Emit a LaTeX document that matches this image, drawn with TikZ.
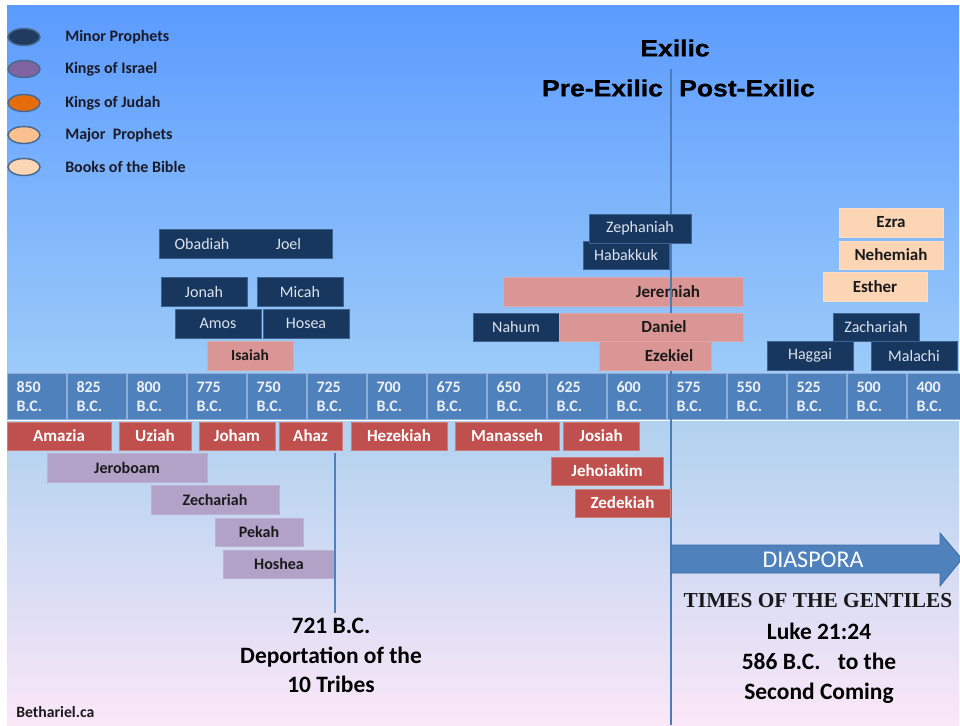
\documentclass[tikz,border=0pt]{standalone}
\usepackage{fontspec}
\setmainfont{Carlito}
\newfontfamily\headfont{Liberation Sans}[FakeStretch=1.13, FakeBold=0.8]
\newfontfamily\timesfont{Liberation Serif}
\usetikzlibrary{shapes.geometric}
\definecolor{skytop}{HTML}{5B9BFE}
\definecolor{skybot}{HTML}{9CCBF9}
\definecolor{lowtop}{HTML}{B0D1EF}
\definecolor{lowmid}{HTML}{D4DAF2}
\definecolor{lowbot}{HTML}{FBE7F8}
\definecolor{bandbg}{HTML}{A9C8EE}
\definecolor{band}{HTML}{4F81BD}
\definecolor{bandedge}{HTML}{8DAFDC}
\definecolor{celltext}{HTML}{EEF2F8}
\definecolor{navy}{HTML}{17375E}
\definecolor{navyedge}{HTML}{3D628F}
\definecolor{minortext}{HTML}{DCE3EE}
\definecolor{pinkmaj}{HTML}{D99694}
\definecolor{judah}{HTML}{C0504D}
\definecolor{israel}{HTML}{B3A2C7}
\definecolor{book}{HTML}{FCD5B5}
\definecolor{darktext}{HTML}{1A1A1A}
\definecolor{legendtext}{HTML}{1B1B28}
\definecolor{legedge}{HTML}{48698F}
\definecolor{legminor}{HTML}{1F3B60}
\definecolor{legisrael}{HTML}{8064A2}
\definecolor{legjudah}{HTML}{E46C0A}
\definecolor{legmajor}{HTML}{FAC090}
\definecolor{legbook}{HTML}{FCD5B5}
\definecolor{exline}{HTML}{4A7EBB}
\definecolor{arrowedge}{HTML}{3A6BA5}
\tikzset{
  box/.style={rectangle, inner sep=0pt, outer sep=0pt, line width=0.5pt},
  minorbox/.style={box, fill=navy, draw=navyedge, text=minortext, font=\fontsize{12}{14}\selectfont},
  majorbox/.style={box, fill=pinkmaj, draw=pinkmaj!85!white, text=darktext, font=\bfseries\fontsize{12.75}{15}\selectfont},
  judahbox/.style={box, fill=judah, draw=judah!75!white, text=white, font=\bfseries\fontsize{12.75}{15}\selectfont},
  israelbox/.style={box, fill=israel, draw=israel!85!white, text=darktext, font=\bfseries\fontsize{12}{14}\selectfont},
  bookbox/.style={box, fill=book, draw=book!80!white, text=darktext, font=\bfseries\fontsize{12.75}{15}\selectfont},
  cell/.style={rectangle, anchor=north west, fill=band, draw=bandedge, line width=0.75pt,
    minimum width=44.25pt, minimum height=34.5pt, text width=30.75pt, inner xsep=6.75pt, inner ysep=0pt,
    align=left, text=celltext, font=\bfseries\fontsize{12}{14.25}\selectfont},
  legdot/.style={ellipse, minimum width=24pt, minimum height=12.75pt, inner sep=0pt, draw=legedge, line width=1.1pt},
  legtext/.style={anchor=west, inner sep=0pt, text=legendtext, font=\bfseries\fontsize{12}{14}\selectfont},
  headtext/.style={inner sep=0pt, text=black, font=\headfont\bfseries\fontsize{17.6}{20}\selectfont},
  bigtext/.style={inner sep=0pt, align=center, text=black, font=\bfseries\fontsize{17.6}{22.1}\selectfont},
  vline/.style={draw=exline, line width=1.4pt},
}
\newcommand\tlbox[7]{\node[#2, minimum width={(#5-#3)*0.75pt}, minimum height={(#6-#4)*0.75pt}] (#1) at ({(#3+#5)/2},{(#4+#6)/2}) {#7};}
\begin{document}
\begin{tikzpicture}[x=0.75pt,y=-0.75pt]
\useasboundingbox (0,0) rectangle (960,725);
% background
\fill[white] (0,0) rectangle (960,725);
\shade[top color=skytop, bottom color=skybot] (7,5) rectangle (959,372);
\fill[bandbg] (7,372) rectangle (959,421);
\shade[top color=lowtop, middle color=lowmid, bottom color=lowbot] (7,421) rectangle (959,725);
% timeline band
\foreach \lab [count=\i from 0] in {850,825,800,775,750,725,700,675,650,625,600,575,550,525,500,400}
  {\node[cell] (c\lab) at ({7+60*\i},373) {\lab\\B.C.};}
\coordinate (wl) at (7,420.5);
\coordinate (wr) at (959,420.5);
\draw[white, line width=1.3pt] (wl) -- (wr);
% legend
\node[legdot, fill=legminor] (lg1) at (24,37) {};
\node[legdot, fill=legisrael] (lg2) at (24,69) {};
\node[legdot, fill=legjudah] (lg3) at (24,103) {};
\node[legdot, fill=legmajor] (lg4) at (24,135) {};
\node[legdot, fill=legbook] (lg5) at (24,167) {};
\node[legtext] (lt1) at (65,37) {Minor Prophets};
\node[legtext] (lt2) at (65,69) {Kings of Israel};
\node[legtext] (lt3) at (65,103) {Kings of Judah};
\node[legtext] (lt4) at (65,135) {Major\ \ Prophets};
\node[legtext] (lt5) at (65,167) {Books of the Bible};
% headings
\node[headtext] (exilic) at (675,48) {Exilic};
\node[headtext] (pre) at (602.5,88) {Pre-Exilic};
\node[headtext] (post) at (747,88) {Post-Exilic};
% boxes crossed by the exilic line (beneath it)
\tlbox{jeremiah}{majorbox}{503}{277}{743}{306}{\hspace*{67.5pt}Jeremiah}
\tlbox{habakkuk}{minorbox}{583}{241}{669}{269}{Habakkuk}
% exilic line
\coordinate (extop) at (671,69);
\coordinate (exbot) at (671,725);
\draw[vline] (extop) -- (exbot);
% minor prophets
\tlbox{obadiah}{minorbox, draw=none}{159}{229}{245}{258}{Obadiah}
\tlbox{joel}{minorbox, draw=none}{245}{229}{332}{258}{Joel}
\draw[navyedge, line width=0.5pt] (obadiah.north west) rectangle (joel.south east);
\tlbox{jonah}{minorbox}{161}{277}{247}{306}{Jonah}
\tlbox{micah}{minorbox}{257}{277}{343}{306}{Micah}
\tlbox{amos}{minorbox}{175}{309}{261}{338}{Amos}
\tlbox{hosea}{minorbox}{263}{309}{349}{338}{Hosea}
\tlbox{zephaniah}{minorbox}{589}{214}{691}{243}{Zephaniah}
\tlbox{nahum}{minorbox}{473}{313}{559}{341}{Nahum}
\tlbox{zachariah}{minorbox}{833}{313}{919}{341}{Zachariah}
\tlbox{haggai}{minorbox}{767}{341}{853}{370}{Haggai}
\tlbox{malachi}{minorbox}{871}{341}{957}{370}{Malachi}
% major prophets
\tlbox{isaiah}{majorbox, font=\bfseries\fontsize{11.6}{14}\selectfont}{207}{341}{293}{370}{Isaiah}
\tlbox{daniel}{majorbox}{559}{313}{743}{341}{\hspace*{19.5pt}Daniel}
\tlbox{ezekiel}{majorbox}{599}{341}{711}{370}{\hspace*{21pt}Ezekiel}
% books
\tlbox{ezra}{bookbox}{839}{208}{943}{237}{Ezra}
\tlbox{nehemiah}{bookbox}{839}{241}{943}{269}{Nehemiah}
\tlbox{esther}{bookbox}{823}{272}{927}{301}{Esther}
% kings of judah
\tlbox{amazia}{judahbox}{7}{422}{111}{450}{Amazia}
\tlbox{uziah}{judahbox}{119}{422}{191}{450}{Uziah}
\tlbox{joham}{judahbox}{199}{422}{275}{450}{Joham}
\tlbox{ahaz}{judahbox}{279}{422}{342}{450}{Ahaz}
\tlbox{hezekiah}{judahbox}{351}{422}{447}{450}{Hezekiah}
\tlbox{manasseh}{judahbox}{455}{422}{559}{450}{Manasseh}
\tlbox{josiah}{judahbox}{563}{422}{639}{450}{Josiah}
\tlbox{jehoiakim}{judahbox}{551}{457}{663}{485}{Jehoiakim}
\tlbox{zedekiah}{judahbox}{575}{489}{670}{517}{Zedekiah}
% kings of israel
\tlbox{jeroboam}{israelbox}{47}{453}{207}{482}{Jeroboam}
\tlbox{zechariah}{israelbox}{151}{485}{279}{514}{Zechariah}
\tlbox{pekah}{israelbox}{215}{518}{303}{546}{Pekah}
\tlbox{hoshea}{israelbox}{223}{550}{335}{578}{Hoshea}
% deportation line
\coordinate (deptop) at (335,453);
\coordinate (depbot) at (335,613);
\draw[draw=band, line width=1.3pt] (deptop) -- (depbot);
\node[bigtext] (deport) at (331,655.5) {721 B.C.\\Deportation of the\\10 Tribes};
% diaspora arrow
\filldraw[fill=band, draw=arrowedge, line width=0.6pt] (671,545) -- (940,545) -- (940,533) -- (962,559) -- (940,586) -- (940,573) -- (671,573) -- cycle;
\node[inner sep=0pt, text=white, font=\fontsize{18}{20}\selectfont] (diaspora) at (813,560) {DIASPORA};
\node[inner sep=0pt, text=black!90, font=\timesfont\bfseries\fontsize{16}{18}\selectfont] (gentiles) at (818,601) {TIMES OF THE GENTILES};
\node[bigtext, font=\bfseries\fontsize{17.6}{22.4}\selectfont] (luke) at (819,663.5) {Luke 21:24\\586 B.C.\hspace{13pt}to the\\Second Coming};
\node[inner sep=0pt, anchor=west, text=darktext, font=\bfseries\fontsize{11.8}{14}\selectfont] (site) at (16,712) {Bethariel.ca};
\end{tikzpicture}
\end{document}
